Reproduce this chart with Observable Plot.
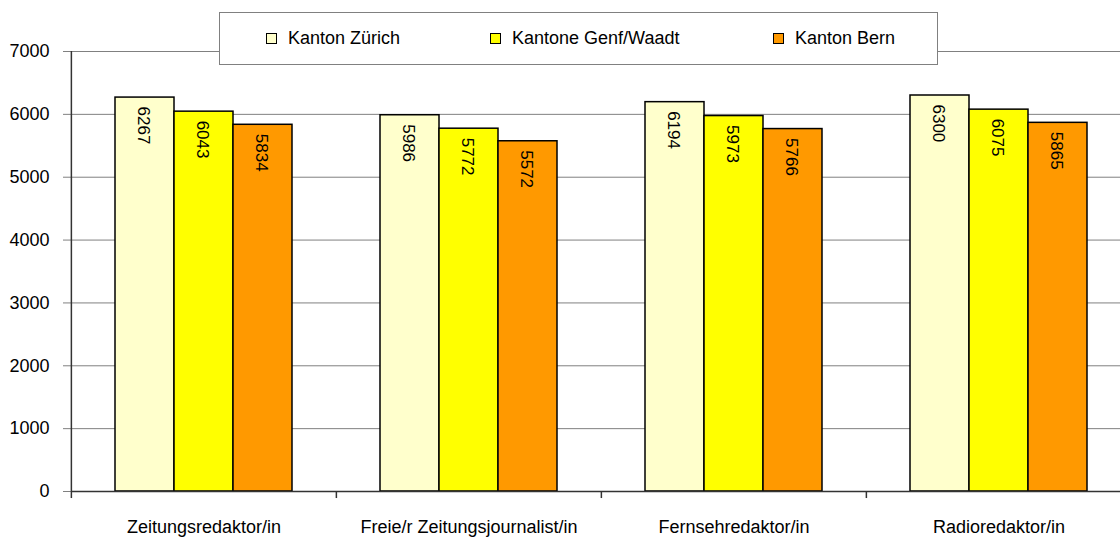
<!DOCTYPE html>
<html>
<head>
<meta charset="utf-8">
<script src="https://cdn.jsdelivr.net/npm/d3@7"></script>
<script src="https://cdn.jsdelivr.net/npm/@observablehq/plot@0.6"></script>
<style>
  html, body { margin: 0; padding: 0; background: #fff; }
  #wrap { position: relative; width: 1120px; height: 541px; overflow: hidden; font-family: "Liberation Sans", Arial, sans-serif; }
  #chart svg { max-width: none !important; display: block; }
  #legend { position: absolute; left: 219px; top: 12px; width: 719px; height: 53px; border: 1px solid #808080; background: #fff; box-sizing: border-box; }
  .item { position: absolute; top: 0; height: 51px; display: flex; align-items: center; font-size: 18px; color: #000; }
  .sw { width: 11px; height: 11px; border: 1px solid #000; margin-right: 11px; box-sizing: border-box; }
</style>
</head>
<body>
<div id="wrap"><div id="chart"></div><div id="legend"></div></div>
<script>
const categories = ["Zeitungsredaktor/in", "Freie/r Zeitungsjournalist/in", "Fernsehredaktor/in", "Radioredaktor/in"];
const series = ["Kanton Zürich", "Kantone Genf/Waadt", "Kanton Bern"];
const zuerich = [6267, 5986, 6194, 6300];
const genfWaadt = [6043, 5772, 5973, 6075];
const bern = [5834, 5572, 5766, 5865];
const colors = ["#FFFFCC", "#FFFF00", "#FF9900"];
const yTicks = [0, 1000, 2000, 3000, 4000, 5000, 6000, 7000];

const seriesValues = [zuerich, genfWaadt, bern];
const data = [];
categories.forEach((c, i) => series.forEach((s, j) => data.push({category: c, series: s, value: seriesValues[j][i]})));

const font = "Liberation Sans, Arial, sans-serif";
const facetHalf = (1131 - 70) / 4 / 2;

const chart = Plot.plot({
  width: 1131,
  height: 541,
  marginLeft: 70,
  marginRight: 0,
  marginTop: 51,
  marginBottom: 50,
  style: {fontFamily: font, background: "white", overflow: "visible"},
  fx: {domain: categories, padding: 0, axis: null, label: null},
  x: {domain: series, padding: 0, insetLeft: 43, insetRight: 44, axis: null},
  y: {domain: [0, 7000], axis: null},
  color: {domain: series, range: colors},
  marks: [
    Plot.ruleY(yTicks, {stroke: "#808080", strokeWidth: 1}),
    Plot.axisY({ticks: yTicks, tickSize: 8, tickPadding: 14, stroke: "#808080", fontSize: 18, tickFormat: d3.format("d"), label: null, color: "#000"}),
    Plot.barY(data, {fx: "category", x: "series", y: "value", fill: "series", stroke: "#000", strokeWidth: 1.5}),
    Plot.text(data, {fx: "category", x: "series", y: "value", text: d => String(d.value), rotate: 90, textAnchor: "start", dy: 9, dx: -2, fontSize: 17, fill: "#000"}),
    Plot.ruleY([0], {stroke: "#333", strokeWidth: 1.5}),
    Plot.ruleX(categories, {fx: d => d, x: null, y1: 0, y2: -112, dx: -facetHalf, stroke: "#333", strokeWidth: 1.5}),
    Plot.ruleX([categories[0]], {fx: d => d, x: null, y1: 0, y2: 7000, dx: -facetHalf, stroke: "#333", strokeWidth: 1.5}),
    Plot.axisFx({anchor: "bottom", tickSize: 0, tickPadding: 29, fontSize: 18, label: null, color: "#000"})
  ]
});
document.getElementById("chart").appendChild(chart);

const legend = document.getElementById("legend");
const legendX = [46, 270, 553];
series.forEach((s, i) => {
  const it = document.createElement("div");
  it.className = "item";
  it.style.left = legendX[i] + "px";
  const sw = document.createElement("div");
  sw.className = "sw";
  sw.style.background = colors[i];
  const tx = document.createElement("span");
  tx.textContent = s;
  it.appendChild(sw); it.appendChild(tx);
  legend.appendChild(it);
});
</script>
</body>
</html>
